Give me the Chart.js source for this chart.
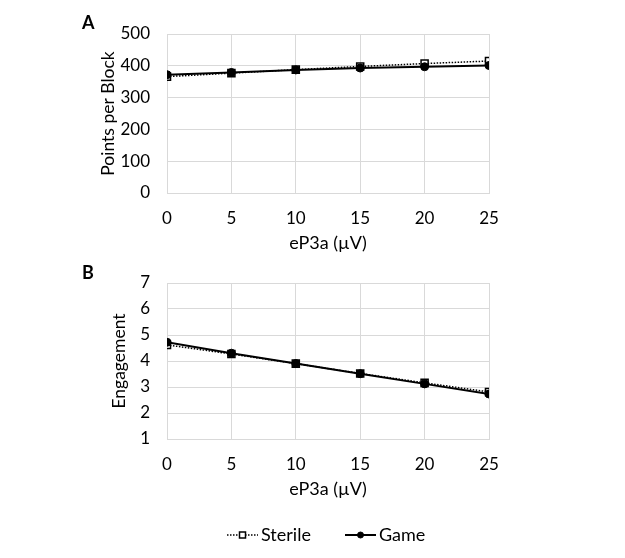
<!DOCTYPE html>
<html>
<head>
<meta charset="utf-8">
<script src="https://cdn.jsdelivr.net/npm/chart.js@4"></script>
<style>
	body { margin: 0; background: #fff; }
	.wrap { position: absolute; left: 0; width: 625px; }
	.panel { position: absolute; font: bold 18px Lato, sans-serif; color: #000; }
</style>
</head>
<body>
<div class="wrap" style="top:0;height:265px"><canvas id="chartA"></canvas></div>
<div class="wrap" style="top:255px;height:303px"><canvas id="chartB"></canvas></div>
<div class="panel" style="left:82px;top:11px">A</div>
<div class="panel" style="left:82px;top:261px">B</div>
<script>
// eP3a amplitude (µV)
const ep3a = [0, 5, 10, 15, 20, 25];

// panel A: points per block
const pointsSterile = [366, 377, 388, 398, 407, 415];
const pointsGame = [372, 379, 387, 393, 397, 401];

// panel B: engagement
const engageSterile = [4.62, 4.27, 3.9, 3.52, 3.16, 2.81];
const engageGame = [4.72, 4.3, 3.9, 3.51, 3.12, 2.73];

const seriesNames = ["Sterile", "Game"];

Chart.defaults.font.family = "Lato, 'Open Sans', sans-serif";
Chart.defaults.font.size = 17;
Chart.defaults.color = "#000";

const gridColor = "#d9d9d9";

function sterileSet(values) {
	return {
		label: seriesNames[0],
		data: values.map((v, i) => ({ x: ep3a[i], y: v })),
		borderColor: "#000",
		borderWidth: 1.5,
		borderDash: [1.5, 1.5],
		pointStyle: "rect",
		pointRadius: 5,
		pointBorderWidth: 1.5,
		pointBackgroundColor: "#fff",
		pointBorderColor: "#000",
		order: 2
	};
}

function gameSet(values) {
	return {
		label: seriesNames[1],
		data: values.map((v, i) => ({ x: ep3a[i], y: v })),
		borderColor: "#000",
		borderWidth: 2,
		pointStyle: "circle",
		pointRadius: 4,
		pointBorderWidth: 1,
		pointBackgroundColor: "#000",
		pointBorderColor: "#000",
		order: 1
	};
}

// legend drawn by hand so the line sample shows with its marker
const lineLegend = {
	id: "lineLegend",
	afterDraw(chart, args, opts) {
		if (!opts.show) return;
		let ctx = chart.ctx;
		let y = opts.y;
		let items = [
			{ x0: 227, ds: chart.data.datasets[0] },
			{ x0: 345, ds: chart.data.datasets[1] }
		];
		ctx.save();
		for (let it of items) {
			let ds = it.ds;
			ctx.strokeStyle = ds.borderColor;
			ctx.lineWidth = ds.borderWidth;
			ctx.setLineDash(ds.borderDash || []);
			ctx.beginPath();
			ctx.moveTo(it.x0, y);
			ctx.lineTo(it.x0 + 31, y);
			ctx.stroke();
			ctx.setLineDash([]);
			ctx.fillStyle = ds.pointBackgroundColor;
			ctx.strokeStyle = ds.pointBorderColor;
			ctx.lineWidth = ds.pointBorderWidth;
			ctx.beginPath();
			if (ds.pointStyle === "rect") {
				ctx.rect(it.x0 + 12.5, y - 3, 6, 6);
			} else {
				ctx.arc(it.x0 + 15.5, y, 3, 0, Math.PI * 2);
			}
			ctx.fill();
			ctx.stroke();
			ctx.fillStyle = "#000";
			ctx.font = "18px Lato, sans-serif";
			ctx.textBaseline = "middle";
			ctx.fillText(ds.label, it.x0 + 34, y);
		}
		ctx.restore();
	}
};

function makeChart(id, sets, yOpts, pad, yWidth, legend) {
	let ctx = document.getElementById(id).getContext("2d");
	return new Chart(ctx, {
		type: "line",
		data: { datasets: sets },
		plugins: [lineLegend],
		options: {
			responsive: true,
			maintainAspectRatio: false,
			animation: false,
			layout: { padding: pad },
			plugins: {
				legend: { display: false },
				tooltip: { enabled: false },
				lineLegend: legend
			},
			scales: {
				x: {
					type: "linear",
					min: 0,
					max: 25,
					ticks: { stepSize: 5, padding: 15 },
					grid: { color: gridColor, drawTicks: false },
					border: { color: gridColor },
					title: { display: true, text: "eP3a (µV)", font: { size: 18 }, padding: { top: 0, bottom: 11 } },
					afterFit: (s) => { s.height = 72; }
				},
				y: Object.assign({
					grid: { color: gridColor, drawTicks: false },
					border: { display: false },
					title: { display: true, text: yOpts.title, font: { size: 17.5 }, padding: 0 },
					afterFit: (s) => { s.width = yWidth; }
				}, yOpts.scale)
			}
		}
	});
}

makeChart("chartA",
	[sterileSet(pointsSterile), gameSet(pointsGame)],
	{ title: "Points per Block", scale: { min: 0, max: 500, ticks: { stepSize: 100, padding: 17 } } },
	{ left: 98, right: 136, top: 34, bottom: 0 },
	69,
	{ show: false });

makeChart("chartB",
	[sterileSet(engageSterile), gameSet(engageGame)],
	{ title: "Engagement", scale: { min: 1, max: 7, ticks: { stepSize: 1, padding: 17 } } },
	{ left: 109, right: 136, top: 28, bottom: 47 },
	58,
	{ show: true, y: 280 });
</script>
</body>
</html>
